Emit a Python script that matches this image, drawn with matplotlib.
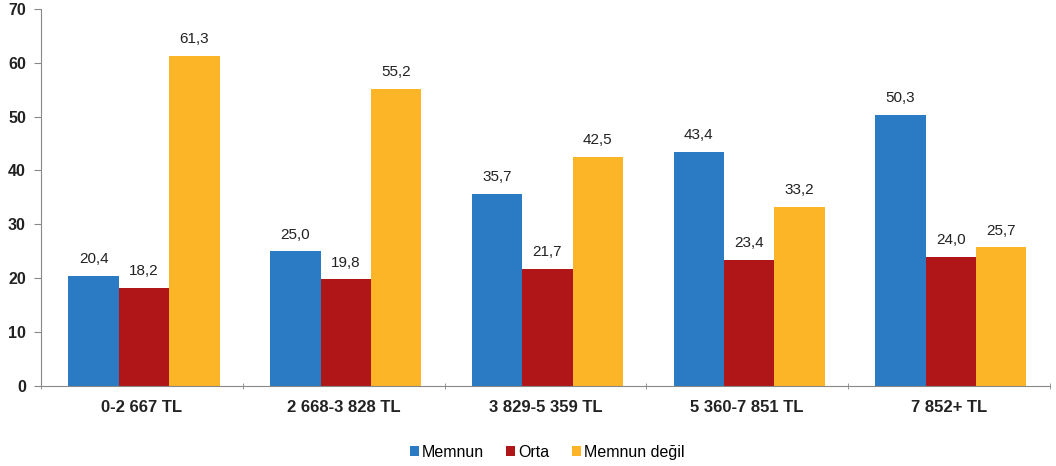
import matplotlib
matplotlib.use('Agg')
import matplotlib.pyplot as plt
import numpy as np

plt.rcParams['font.family'] = ['Liberation Sans', 'DejaVu Sans']

categories = ['0-2 667 TL', '2 668-3 828 TL', '3 829-5 359 TL', '5 360-7 851 TL', '7 852+ TL']
memnun = [20.4, 25.0, 35.7, 43.4, 50.3]
orta = [18.2, 19.8, 21.7, 23.4, 24.0]
memnun_degil = [61.3, 55.2, 42.5, 33.2, 25.7]

series = [('Memnun', memnun, '#2A7BC3'),
          ('Orta', orta, '#B01517'),
          ('Memnun değil', memnun_degil, '#FBB526')]

fig = plt.figure(figsize=(10.56, 4.66), dpi=100)
ax = fig.add_axes([0.039, 0.172, 0.955, 0.809])

x = np.arange(len(categories))
w = 0.25
for i, (name, vals, col) in enumerate(series):
    pos = x + (i - 1) * w + 0.01
    ax.bar(pos, vals, w, color=col, label=name)
    for px, v in zip(pos, vals):
        ax.text(px, v + 1.8, f'{v:.1f}'.replace('.', ','), ha='center', va='bottom',
                fontsize=11, color='#222222')

ax.set_xlim(-0.5, len(categories) - 0.5)
ax.set_ylim(0, 70)
ax.set_yticks(range(0, 71, 10))
ax.set_yticklabels([str(t) for t in range(0, 71, 10)], fontsize=11.5, fontweight='bold', color='#222222')
ax.set_xticks(x)
ax.set_xticklabels(categories, fontsize=12, fontweight='bold', color='#222222')
ax.tick_params(axis='x', which='major', length=0, pad=10)
ax.set_xticks(np.arange(-0.5, len(categories), 1), minor=True)
ax.tick_params(axis='x', which='minor', length=5, color='#888888', direction='inout')
ax.tick_params(axis='y', length=5, color='#888888', pad=6)

for s in ['top', 'right']:
    ax.spines[s].set_visible(False)
for s in ['left', 'bottom']:
    ax.spines[s].set_color('#888888')

fig.legend(loc='center', bbox_to_anchor=(0.518, 0.03), ncol=3, frameon=False,
           fontsize=11.5, handlelength=0.55, handleheight=0.55, handletextpad=0.2,
           columnspacing=1.4)

fig.savefig('out.png', dpi=100)
